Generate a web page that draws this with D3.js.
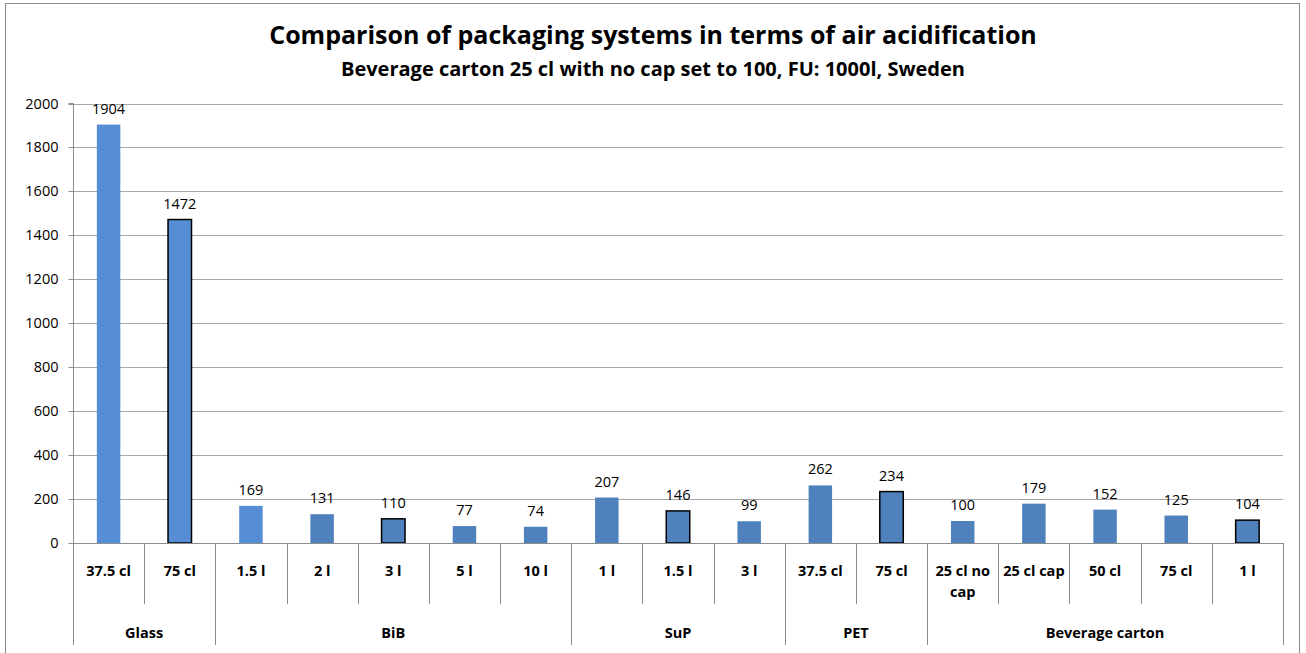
<!DOCTYPE html>
<html><head><meta charset="utf-8">
<script src="https://cdn.jsdelivr.net/npm/d3@7"></script>
<style>body{margin:0;background:#fff}svg text{font-family:"Open Sans",Lato,sans-serif}</style>
</head><body><svg id="c" width="1306" height="653"></svg>
<script>
const groups = ["Glass","BiB","SuP","PET","Beverage carton"];
const groupSizes = [2,5,3,2,5];
const categories = ["37.5 cl","75 cl","1.5 l","2 l","3 l","5 l","10 l","1 l","1.5 l","3 l","37.5 cl","75 cl","25 cl no cap","25 cl cap","50 cl","75 cl","1 l"];
const values = [1904,1472,169,131,110,77,74,207,146,99,262,234,100,179,152,125,104];
const outlined = [false,true,false,false,true,false,false,false,true,false,false,true,false,false,false,false,true];
const lighter = [true,true,true,false,false,false,false,false,false,false,false,false,false,false,false,false,false];
const yTicks = [0,200,400,600,800,1000,1200,1400,1600,1800,2000];

const svg = d3.select("#c");
const L=73, R=1283, T=103.5, B=543;
svg.append("rect").attr("x",5.5).attr("y",3.5).attr("width",1294).attr("height",670).attr("fill","#fff").attr("stroke","#8c8c8c");

svg.append("text").attr("x",653).attr("y",44).attr("text-anchor","middle").attr("font-weight","bold").attr("font-size",25).attr("fill","#000").text("Comparison of packaging systems in terms of air acidification");
svg.append("text").attr("x",653).attr("y",76).attr("text-anchor","middle").attr("font-weight","bold").attr("font-size",20).attr("fill","#000").text("Beverage carton 25 cl with no cap set to 100, FU: 1000l, Sweden");

const idx = d3.range(categories.length);
const x = d3.scaleBand().domain(idx).range([L,R]).paddingInner(0).paddingOuter(0);
const y = d3.scaleLinear().domain([0,2000]).range([B,T]);

// grid
svg.append("g").selectAll("line").data(yTicks.filter(d=>d>0)).join("line")
  .attr("x1",L).attr("x2",R).attr("y1",d=>Math.round(y(d))+0.5).attr("y2",d=>Math.round(y(d))+0.5)
  .attr("stroke","#a6a6a6").attr("stroke-width",1);

// y axis
const ya = svg.append("g").attr("transform",`translate(${L+0.5},0)`).call(d3.axisLeft(y).tickValues(yTicks).tickSize(5).tickPadding(10).tickFormat(d3.format("d")));
ya.select(".domain").attr("stroke","#8c8c8c").attr("d",`M-5,${T}H0V${B}`);
ya.selectAll(".tick line").attr("stroke","#8c8c8c");
ya.selectAll(".tick").attr("transform",d=>`translate(0,${Math.round(y(d))+0.5})`);
ya.selectAll("text").attr("font-size",14.5).attr("fill","#000").attr("font-family","'Open Sans',sans-serif");

// bars
const bw = x.bandwidth()*0.33;
svg.append("g").selectAll("rect").data(idx).join("rect")
  .attr("x",i=>x(i)+x.bandwidth()/2-bw/2).attr("width",bw)
  .attr("y",i=>y(values[i])).attr("height",i=>B-y(values[i]))
  .attr("fill",i=>lighter[i]?"#558ed5":"#4f81bd")
  .attr("stroke",i=>outlined[i]?"#000":"none").attr("stroke-width",1.5);

// value labels
svg.append("g").selectAll("text").data(idx).join("text")
  .attr("x",i=>x(i)+x.bandwidth()/2).attr("y",i=>y(values[i])-11)
  .attr("text-anchor","middle").attr("font-size",14.5).attr("fill","#000").text(i=>values[i]);

// x axis line
svg.append("line").attr("x1",L).attr("x2",R).attr("y1",B+0.5).attr("y2",B+0.5).attr("stroke","#8c8c8c");

// boundaries
const groupStarts = [0]; groupSizes.forEach((s,k)=>groupStarts.push(groupStarts[k]+s));
const bounds = d3.range(categories.length+1);
svg.append("g").selectAll("line").data(bounds).join("line")
  .attr("x1",i=>Math.round(i<categories.length?x(i):R)+0.5).attr("x2",i=>Math.round(i<categories.length?x(i):R)+0.5)
  .attr("y1",B).attr("y2",i=>groupStarts.includes(i)?645:604)
  .attr("stroke","#8c8c8c");

// category labels with wrapping
const cl = svg.append("g").selectAll("text").data(idx).join("text")
  .attr("x",i=>x(i)+x.bandwidth()/2).attr("y",576).attr("text-anchor","middle")
  .attr("font-size",14.5).attr("font-weight","bold").attr("fill","#000");
cl.each(function(i){
  const t=d3.select(this); const words=categories[i].split(" ");
  let line=[], lines=[];
  const tmp=t.append("tspan");
  words.forEach(w=>{line.push(w); tmp.text(line.join(" "));
    if(tmp.node().getComputedTextLength()>66 && line.length>1){line.pop(); lines.push(line.join(" ")); line=[w];}});
  lines.push(line.join(" ")); tmp.remove();
  lines.forEach((s,k)=>t.append("tspan").attr("x",x(i)+x.bandwidth()/2).attr("y",576+k*21).text(s));
});

// group labels
svg.append("g").selectAll("text").data(groups).join("text")
  .attr("x",(g,k)=>{const a=x(groupStarts[k]); const e=groupStarts[k+1]<categories.length?x(groupStarts[k+1]):R; return (a+e)/2;})
  .attr("y",638).attr("text-anchor","middle").attr("font-size",14.5).attr("font-weight","bold").attr("fill","#000").text(g=>g);
</script></body></html>
